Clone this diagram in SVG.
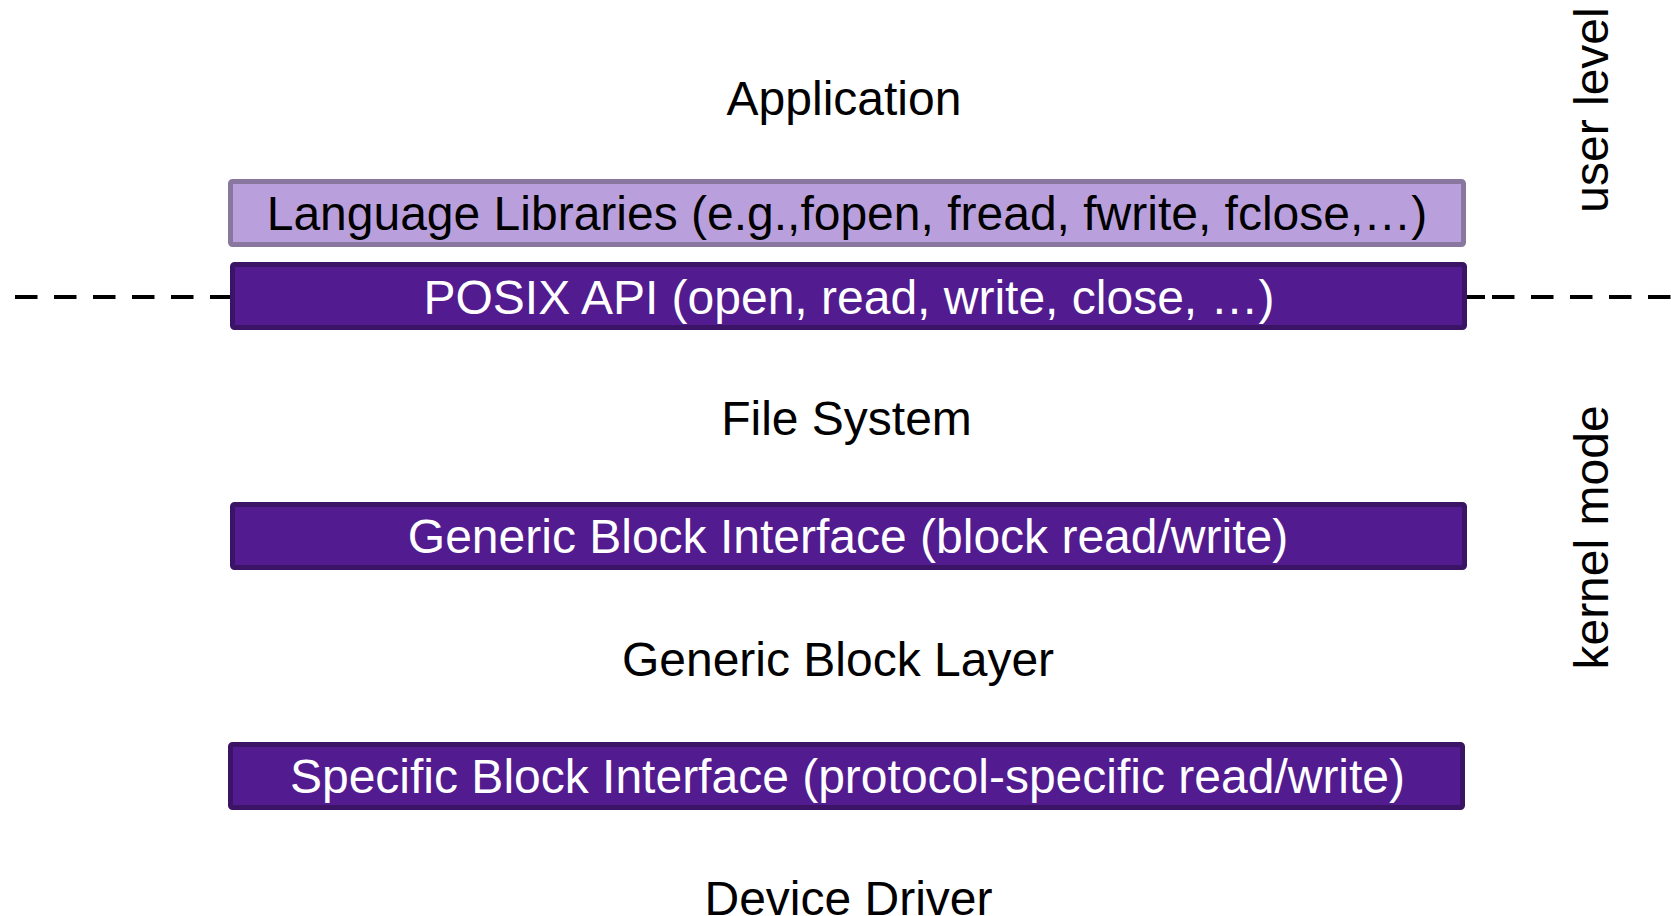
<svg xmlns="http://www.w3.org/2000/svg" width="1671" height="916" viewBox="0 0 1671 916">
  <style>
    .t { font-family: "Liberation Sans", Arial, sans-serif; font-size: 48px; fill: #000; text-anchor: middle; }
    .w { fill: #ffffff; }
    .light { fill: #b9a0dc; stroke: #8a779f; stroke-width: 5; }
    .dark { fill: #521b8f; stroke: #3c1466; stroke-width: 5; }
    .dash { stroke: #000; stroke-width: 4; stroke-dasharray: 22.5 16.5; fill: none; }
    .seg { stroke: #000; stroke-width: 4; fill: none; }
  </style>
  <g id="connectors">
    <line class="dash" x1="15" y1="297" x2="232" y2="297"/>
    <line class="seg" x1="1466" y1="297" x2="1485" y2="297"/>
    <line class="dash" x1="1492" y1="297" x2="1671" y2="297"/>
  </g>
  <g id="application">
    <text class="t" x="844" y="115">Application</text>
  </g>
  <g id="language-libraries">
    <rect class="light" x="230.5" y="181.5" width="1233" height="63" rx="2"/>
    <text class="t" x="847" y="230">Language Libraries (e.g.,fopen, fread, fwrite, fclose,…)</text>
  </g>
  <g id="posix-api">
    <rect class="dark" x="232.5" y="264.5" width="1232" height="63" rx="2"/>
    <text class="t w" x="849" y="314">POSIX API (open, read, write, close, …)</text>
  </g>
  <g id="file-system">
    <text class="t" x="846.5" y="435">File System</text>
  </g>
  <g id="generic-block-interface">
    <rect class="dark" x="232.5" y="504.5" width="1232" height="63" rx="2"/>
    <text class="t w" x="848" y="553">Generic Block Interface (block read/write)</text>
  </g>
  <g id="generic-block-layer">
    <text class="t" x="838" y="676">Generic Block Layer</text>
  </g>
  <g id="specific-block-interface">
    <rect class="dark" x="230.5" y="744.5" width="1232" height="63" rx="2"/>
    <text class="t w" x="847.5" y="793">Specific Block Interface (protocol-specific read/write)</text>
  </g>
  <g id="device-driver">
    <text class="t" x="848.5" y="915">Device Driver</text>
  </g>
  <g id="user-level">
    <text class="t" transform="translate(1608,110) rotate(-90)">user level</text>
  </g>
  <g id="kernel-mode">
    <text class="t" transform="translate(1608,537.5) rotate(-90)">kernel mode</text>
  </g>
</svg>
